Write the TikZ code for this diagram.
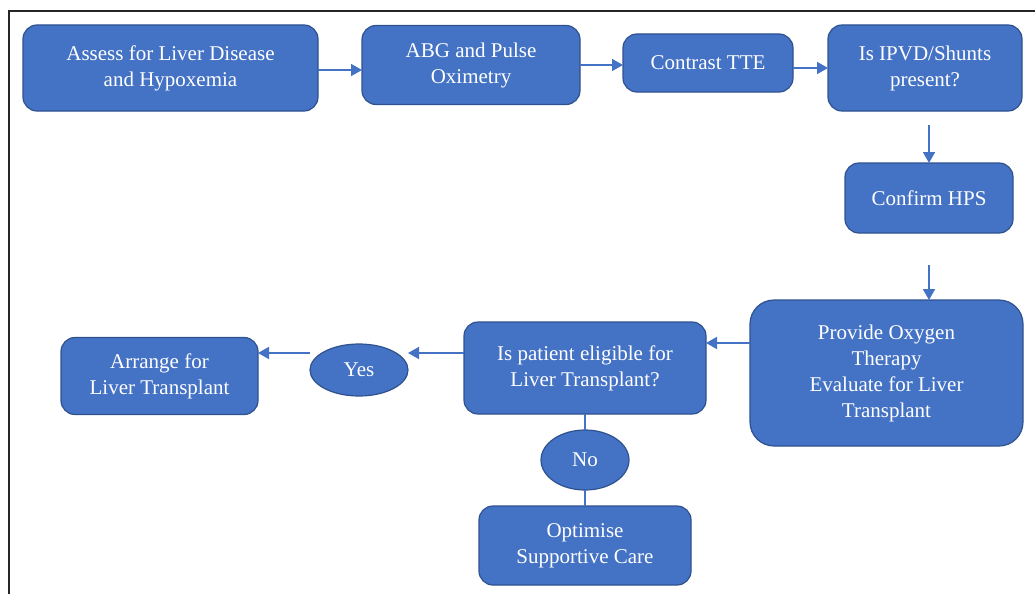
\documentclass[tikz,border=0pt]{standalone}
\usepackage{fontspec}
\setmainfont{Liberation Serif}
\usetikzlibrary{positioning,shapes.geometric,arrows.meta}

\definecolor{boxblue}{HTML}{4472C4}
\definecolor{boxedge}{HTML}{2F528F}
\definecolor{framegray}{HTML}{262626}

\tikzset{
  stepbox/.style={draw=boxedge, line width=1.2pt, fill=boxblue, rounded corners=14pt,
    text=white, align=center, inner sep=4pt, outer sep=0pt, font=\fontsize{21}{26}\selectfont},
  answer/.style={ellipse, draw=boxedge, line width=1.2pt, fill=boxblue,
    text=white, inner sep=0pt, outer sep=0pt, font=\fontsize{21}{26}\selectfont},
  flow/.style={draw=boxblue, line width=1.7pt, -{Triangle[length=11pt,width=12pt]}},
  link/.style={draw=boxblue, line width=1.7pt},
}

\begin{document}
\begin{tikzpicture}[x=1pt, y=-1pt]

  % Frame

  \useasboundingbox (0,0) rectangle (1035,594);
  \draw[framegray, line width=1.2pt] (1035,11) -- (9,11) -- (9,594);

  % Nodes

  \node[stepbox, minimum width=295pt, minimum height=86pt] (assess) at (170.5,68) {Assess for Liver Disease\\and Hypoxemia};
  \node[stepbox, minimum width=218pt, minimum height=79pt, right=44pt of assess, yshift=3pt] (abg) {ABG and Pulse\\Oximetry};
  \node[stepbox, minimum width=170pt, minimum height=58pt, right=43pt of abg, yshift=2pt] (tte) {Contrast TTE};
  \node[stepbox, minimum width=194pt, minimum height=86pt, right=35pt of tte, yshift=-5pt] (ipvd) {Is IPVD/Shunts\\present?};
  \node[stepbox, minimum width=168pt, minimum height=70pt, below=52pt of ipvd, xshift=4pt] (confirm) {Confirm HPS};
  \node[stepbox, rounded corners=24pt, minimum width=273pt, minimum height=146pt, below=67pt of confirm, xshift=-42.5pt] (oxygen) {Provide Oxygen\\Therapy\\Evaluate for Liver\\Transplant};
  \node[stepbox, minimum width=242pt, minimum height=92pt, left=44pt of oxygen, yshift=5pt] (eligible) {Is patient eligible for\\Liver Transplant?};
  \node[answer, minimum width=98pt, minimum height=52pt, left=56pt of eligible, yshift=-2pt] (yes) {Yes};
  \node[stepbox, minimum width=197pt, minimum height=77pt, left=52pt of yes, yshift=-6pt] (arrange) {Arrange for\\Liver Transplant};
  \node[answer, minimum width=88pt, minimum height=60pt, below=16pt of eligible] (no) {No};
  \node[stepbox, minimum width=212pt, minimum height=79pt, below=16pt of no] (optimise) {Optimise\\Supportive Care};

  % Edges

  \draw[flow] ([yshift=-2pt]assess.east) -- ([yshift=-2pt]assess.east -| abg.west);
  \draw[flow] (abg.east) -- (abg.east -| tte.west);
  \draw[flow] (ipvd.west -| tte.east) -- (ipvd.west);
  \draw[flow, shorten <=14pt] (ipvd.south -| confirm.north) -- (confirm.north);
  \draw[flow, shorten <=32pt] (confirm.south) -- (confirm.south |- oxygen.north);
  \draw[flow] ([yshift=25pt]eligible.east -| oxygen.west) -- ([yshift=25pt]eligible.east);
  \draw[flow] ([yshift=15pt]eligible.west) -- ([yshift=15pt]eligible.west -| yes.east);
  \draw[flow] ([yshift=15pt]eligible.west -| yes.west) -- ([yshift=15pt]eligible.west -| arrange.east);
  \draw[link] (eligible.south -| no.north) -- (no.north);
  \draw[link] (no.south) -- (optimise.north);

\end{tikzpicture}
\end{document}
